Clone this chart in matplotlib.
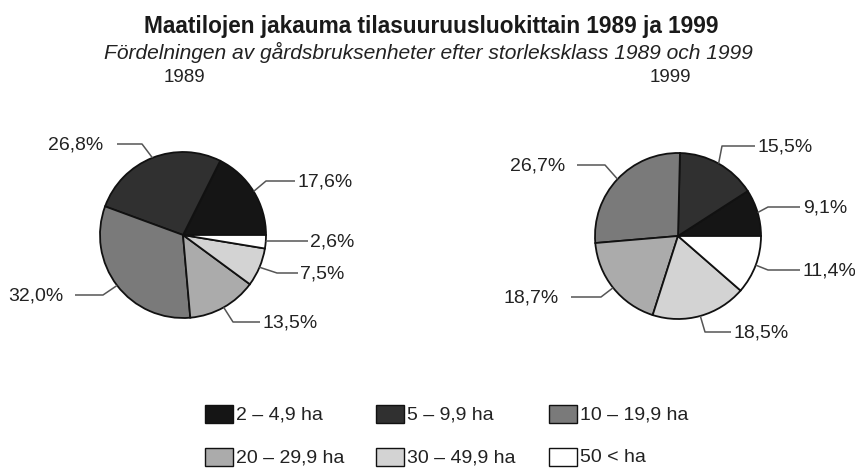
import matplotlib
matplotlib.use("Agg")
import matplotlib.pyplot as plt
from matplotlib.patches import Rectangle
from matplotlib import font_manager as fm
import numpy as np

# ---------------- data ----------------
categories = ["2 – 4,9 ha", "5 – 9,9 ha", "10 – 19,9 ha", "20 – 29,9 ha", "30 – 49,9 ha", "50 < ha"]
share_1989 = [17.6, 26.8, 32.0, 13.5, 7.5, 2.6]
share_1999 = [9.1, 15.5, 26.7, 18.7, 18.5, 11.4]
years = ["1989", "1999"]
title = "Maatilojen jakauma tilasuuruusluokittain 1989 ja 1999"
subtitle = "Fördelningen av gårdsbruksenheter efter storleksklass 1989 och 1999"

# ---------------- style ----------------
colors = ["#151515", "#303030", "#7a7a7a", "#ababab", "#d3d3d3", "#ffffff"]

def pick(names):
    for n in names:
        try:
            fm.findfont(fm.FontProperties(family=n), fallback_to_default=False)
            return n
        except Exception:
            pass
    return "DejaVu Sans"

FONT = pick(["Liberation Sans Narrow", "Liberation Sans", "DejaVu Sans"])
plt.rcParams["font.family"] = [FONT, "DejaVu Sans"]

W, H = 855, 470
fig = plt.figure(figsize=(W / 100, H / 100), dpi=100)
ax = fig.add_axes([0, 0, 1, 1])

# pie layout (pixel coords, y downward)
pie_centers = [(183, 235), (678, 236)]
pie_radius = 83

# label layout per pie, in category order: (text_x, text_y, ha, line_y, line_end_x, elbow_x)
label_layout = [
    [(297, 182, "left", 181, 295, 266),
     (103, 145, "right", 144, 117, 142),
     (63, 296, "right", 295, 75, 103),
     (262, 323, "left", 322, 260, 233),
     (300, 274, "left", 273, 298, 277),
     (310, 242, "left", 241, 308, 267)],
    [(803, 208, "left", 207, 800, 768),
     (757, 147, "left", 146, 755, 722),
     (565, 166, "right", 165, 577, 605),
     (559, 298, "right", 297, 571, 601),
     (733, 333, "left", 332, 731, 705),
     (802, 271, "left", 270, 800, 768)],
]
header_pos = [(184, 78), (670, 78)]
LABEL_FS = 14

for shares, (cx, cy), layout, yr, hp in zip([share_1989, share_1999], pie_centers,
                                            label_layout, years, header_pos):
    wedges, _ = ax.pie(shares, colors=colors, startangle=0, counterclock=False,
                       center=(cx, cy), radius=pie_radius, frame=True,
                       wedgeprops=dict(edgecolor="#111111", linewidth=1.3))
    for w, v, (tx, ty, ha, ly, lx, ex) in zip(wedges, shares, layout):
        mid = np.deg2rad((w.theta1 + w.theta2) / 2)
        px = cx + pie_radius * np.cos(mid)
        py = cy + pie_radius * np.sin(mid)
        ax.plot([px, ex, lx], [py, ly, ly], color="#555555", lw=1.1,
                solid_capstyle="butt", zorder=1)
        ax.text(tx, ty, f"{v:.1f}%".replace(".", ","), ha=ha, va="center",
                fontsize=LABEL_FS, color="#222222")
    ax.text(hp[0], hp[1], yr, ha="center", va="center", fontsize=13.5, color="#222222")

ax.set_xlim(0, W)
ax.set_ylim(H, 0)
ax.set_aspect("equal")
ax.axis("off")

# title & subtitle fitted to measured widths
t1 = ax.text(431, 26, title, ha="center", va="center", fontsize=19,
             fontweight="bold", color="#1a1a1a")
t2 = ax.text(428, 52, subtitle, ha="center", va="center", fontsize=15,
             fontstyle="italic", color="#222222")
fig.canvas.draw()
r = fig.canvas.get_renderer()
for t, target in [(t1, 575), (t2, 653)]:
    wpx = t.get_window_extent(r).width
    t.set_fontsize(t.get_fontsize() * target / wpx)

# legend (manual grid)
col_x = [205, 376, 549]
row_y = [414, 457]
for i, (cat, c) in enumerate(zip(categories, colors)):
    x = col_x[i % 3]
    y = row_y[i // 3]
    ax.add_patch(Rectangle((x, y - 9), 28, 18, facecolor=c, edgecolor="#111111", lw=1.0))
    ax.text(x + 31, y + 1, cat, ha="left", va="center", fontsize=LABEL_FS, color="#222222")

fig.savefig("out.png", dpi=100)
